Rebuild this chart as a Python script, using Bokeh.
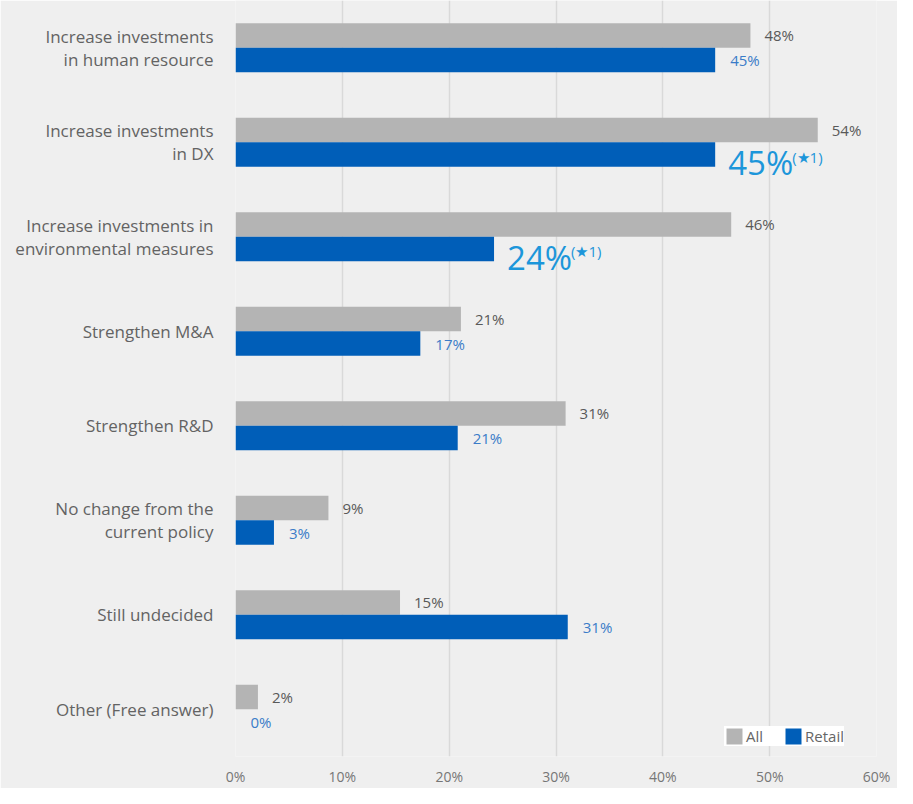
from bokeh.plotting import figure
from bokeh.models import (ColumnDataSource, FactorRange, FixedTicker, PrintfTickFormatter,
                          Legend, LegendItem)
from bokeh.transform import dodge
from bokeh.core.properties import value
from bokeh.embed import file_html
from bokeh.resources import INLINE

categories = [
    "Increase investments\nin human resource",
    "Increase investments\nin DX",
    "Increase investments in\nenvironmental measures",
    "Strengthen M&A",
    "Strengthen R&D",
    "No change from the\ncurrent policy",
    "Still undecided",
    "Other (Free answer)",
]
all_vals = [48.2, 54.5, 46.4, 21.1, 30.9, 8.7, 15.4, 2.1]
retail_vals = [44.9, 44.9, 24.2, 17.3, 20.8, 3.6, 31.1, 0.0]
all_labels = ["48%", "54%", "46%", "21%", "31%", "9%", "15%", "2%"]
retail_labels = ["45%", "45%", "24%", "17%", "21%", "3%", "31%", "0%"]
retail_notes = ["", "(★1)", "(★1)", "", "", "", "", ""]
x_ticks = [0, 10, 20, 30, 40, 50, 60]

FONT = "Open Sans"
BG = "#efefef"
GRAY = "#b4b4b4"
BLUE = "#005eb8"
BIG_BLUE = "#1c96da"

p = figure(
    width=897, height=788,
    y_range=FactorRange(*reversed(categories)),
    x_range=(0, 60),
    output_backend="svg", toolbar_location=None,
    min_border_left=235, min_border_right=21, min_border_top=0, min_border_bottom=24,
)
p.background_fill_color = BG
p.border_fill_color = BG
p.outline_line_color = None

src = ColumnDataSource(dict(
    cat=categories, all=all_vals, retail=retail_vals,
    all_lab=all_labels, retail_lab=retail_labels,
))
plain = [i for i, n in enumerate(retail_notes) if n == ""]
noted = [i for i, n in enumerate(retail_notes) if n != ""]
src_plain = ColumnDataSource(dict(
    cat=[categories[i] for i in plain],
    retail=[retail_vals[i] for i in plain],
    lab=[retail_labels[i] for i in plain],
))
src_noted = ColumnDataSource(dict(
    cat=[categories[i] for i in noted],
    retail=[retail_vals[i] for i in noted],
    lab=[retail_labels[i] for i in noted],
    note=[retail_notes[i] for i in noted],
))

r_all = p.hbar(y=dodge("cat", 0.13, range=p.y_range), right="all", left=0, height=0.26,
               source=src, fill_color=GRAY, line_color=None)
r_ret = p.hbar(y=dodge("cat", -0.13, range=p.y_range), right="retail", left=0, height=0.26,
               source=src, fill_color=BLUE, line_color=None)

p.text(x="all", y=dodge("cat", 0.13, range=p.y_range), text="all_lab", source=src,
       x_offset=14, text_baseline="middle", text_align="left",
       text_font=value(FONT), text_font_size="15px", text_color="#595959")
p.text(x="retail", y=dodge("cat", -0.13, range=p.y_range), text="lab", source=src_plain,
       x_offset=15, text_baseline="middle", text_align="left",
       text_font=value(FONT), text_font_size="15px", text_color="#3a7cc8")
p.text(x="retail", y=dodge("cat", -0.13, range=p.y_range), text="lab", source=src_noted,
       x_offset=13, y_offset=8, text_baseline="middle", text_align="left",
       text_font=value(FONT), text_font_size="33px", text_color=BIG_BLUE)
p.text(x="retail", y=dodge("cat", -0.13, range=p.y_range), text="note", source=src_noted,
       x_offset=77, y_offset=2, text_baseline="middle", text_align="left",
       text_font=value(FONT), text_font_size="15px", text_color=BIG_BLUE)

p.xaxis.ticker = FixedTicker(ticks=x_ticks)
p.xaxis.formatter = PrintfTickFormatter(format="%d%%")
for ax in (p.xaxis, p.yaxis):
    ax.axis_line_color = None
    ax.major_tick_line_color = None
    ax.minor_tick_line_color = None
    ax.major_label_text_font = FONT
p.xaxis.major_label_text_font_size = "14px"
p.xaxis.major_label_text_color = "#767676"
p.xaxis.major_label_standoff = 4
p.yaxis.major_label_text_font_size = "17px"
p.yaxis.major_label_text_color = "#636363"
p.yaxis.major_label_text_line_height = 1.0
p.yaxis.major_label_standoff = 16

p.xgrid.grid_line_color = "#d9d9d9"
p.xgrid.grid_line_width = 1.5
p.ygrid.grid_line_color = None

legend = Legend(
    items=[LegendItem(label="All", renderers=[r_all]),
           LegendItem(label="Retail", renderers=[r_ret])],
    orientation="horizontal", location=(489, 10),
    background_fill_color="white", background_fill_alpha=1.0,
    border_line_color=None,
    glyph_width=20, glyph_height=20, label_standoff=2, spacing=20, padding=9,
    label_height=20, label_width=16,
    label_text_font=FONT, label_text_font_size="15px", label_text_color="#666666",
    margin=0,
)
p.add_layout(legend)

open("out.html", "w").write(file_html(p, INLINE))
